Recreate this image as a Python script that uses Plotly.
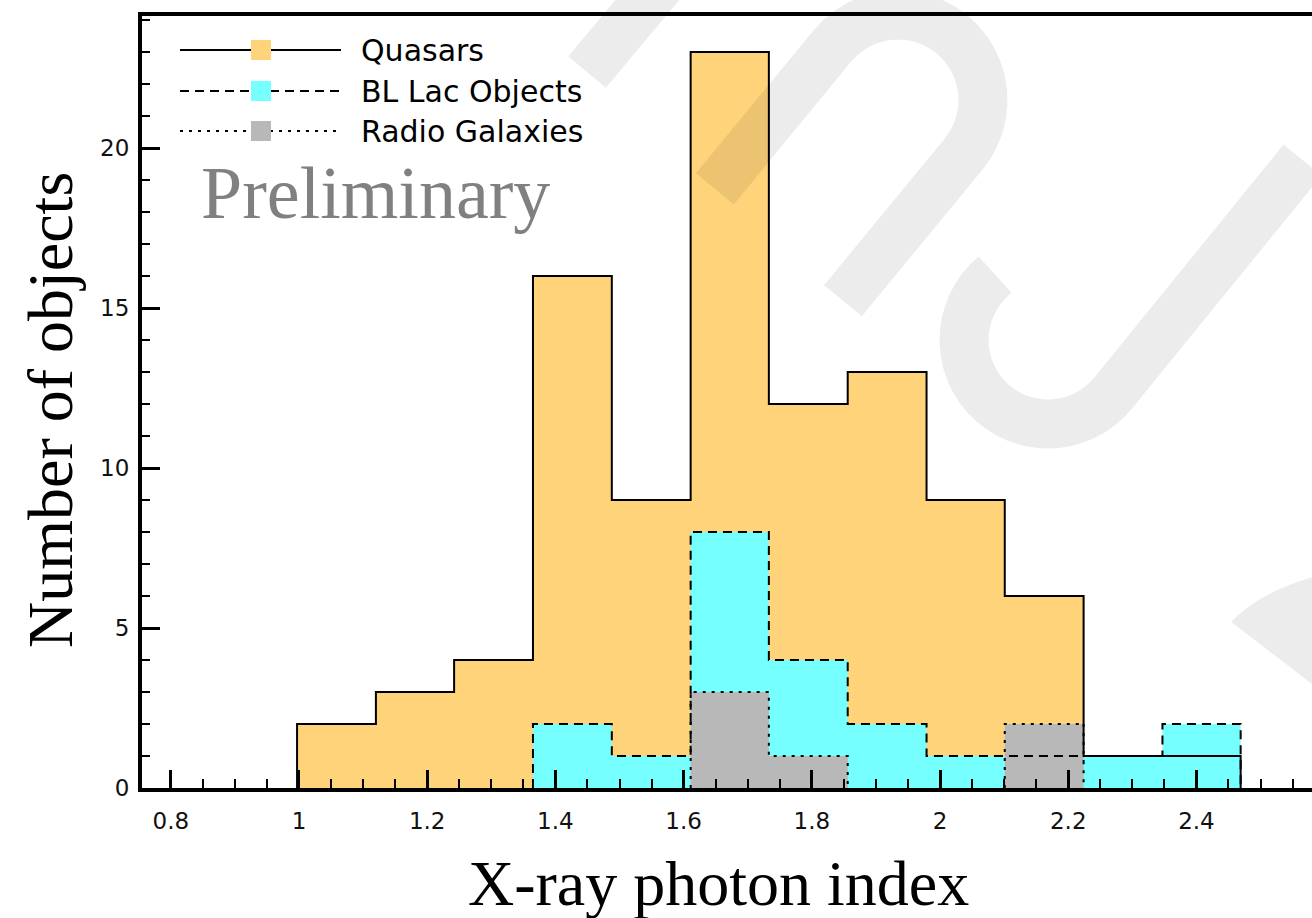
import numpy as np
import plotly.graph_objects as go

# ---------------- data ----------------
bin_edges = [0.997, 1.12, 1.242, 1.365, 1.488, 1.611, 1.733, 1.856, 1.979, 2.101, 2.224, 2.347, 2.469]
quasars = [2, 3, 4, 16, 9, 23, 12, 13, 9, 6, 1, 1]
bl_lacs = [0, 0, 0, 2, 1, 8, 4, 2, 1, 1, 1, 2]
radio_galaxies = [0, 0, 0, 0, 0, 3, 1, 0, 0, 2, 0, 0]
series_names = ["Quasars", "BL Lac Objects", "Radio Galaxies"]
x_title = "X-ray photon index"
y_title = "Number of objects"
watermark_text = "Preliminary"

# ---------------- style ----------------
W, H = 1312, 918
L, R, T, B = 142, 0, 16, 130
fills = ["#FFD37A", "#75FFFF", "#B8B8B8"]
dashes = ["solid", "9px,6px", "3px,6px"]
SANS = "DejaVu Sans"
SERIF = "Liberation Serif, Times New Roman, serif"


def px2x(X):
    return (X - L) / (W - L - R)


def px2y(Y):
    return (H - B - Y) / (H - T - B)


def runs(counts):
    out, i = [], 0
    while i < len(counts):
        if counts[i] > 0:
            j = i
            while j + 1 < len(counts) and counts[j + 1] > 0:
                j += 1
            out.append((i, j))
            i = j + 1
        else:
            i += 1
    return out


def step_xy(edges, counts, i, j):
    xs = [edges[i]] + [edges[k] for k in range(i, j + 1)] + [edges[j + 1], edges[j + 1]]
    ys = [0] + [counts[k] for k in range(i, j + 1)] + [counts[j], 0]
    return xs, ys


fig = go.Figure()
all_series = [quasars, bl_lacs, radio_galaxies]

# fills first
for s, counts in enumerate(all_series):
    for (i, j) in runs(counts):
        xs, ys = step_xy(bin_edges, counts, i, j)
        fig.add_trace(go.Scatter(x=xs, y=ys, mode="lines", line=dict(width=0, shape="hv"),
                                 fill="toself", fillcolor=fills[s], showlegend=False,
                                 hoverinfo="skip"))
# outlines on top
for s, counts in enumerate(all_series):
    for (i, j) in runs(counts):
        xs, ys = step_xy(bin_edges, counts, i, j)
        fig.add_trace(go.Scatter(x=xs, y=ys, mode="lines",
                                 line=dict(width=2, shape="hv", color="black", dash=dashes[s]),
                                 showlegend=False, name=series_names[s]))

shapes = []
wm = "rgba(0,0,0,0.075)"


def poly_path(pts):
    return "M " + " L ".join(f"{px2x(X):.5f},{px2y(Y):.5f}" for X, Y in pts)


# watermark: hairpin
d = np.array([0.635, -0.772]); d /= np.linalg.norm(d)
n = np.array([0.772, 0.635]); n /= np.linalg.norm(n)
c = np.array([898.0, 100.0]); r = 85.0
T1 = c - r * n; T2 = c + r * n
pts = [T1 - 185 * d]
for th in np.linspace(0, np.pi, 25):
    pts.append(c + r * (-n * np.cos(th) + d * np.sin(th)))
pts.append(T2 - 190 * d)
shapes.append(dict(type="path", xref="paper", yref="paper", path=poly_path(pts),
                   line=dict(color=wm, width=49), layer="above"))
# watermark: top-left band
shapes.append(dict(type="path", xref="paper", yref="paper",
                   path=poly_path([(587, 72), (587 + 0.643 * 140, 72 - 0.766 * 140)]),
                   line=dict(color=wm, width=49), layer="above"))
# watermark: J shape
c2 = np.array([1048.0, 340.0]); r2 = 84.0
d2 = np.array([0.63, -0.775]); d2 /= np.linalg.norm(d2)
jpts = []
for ang in np.linspace(np.radians(231), np.radians(39), 30):
    jpts.append(c2 + r2 * np.array([np.cos(ang), np.sin(ang)]))
jpts.append(jpts[-1] + 300 * d2)
shapes.append(dict(type="path", xref="paper", yref="paper", path=poly_path(jpts),
                   line=dict(color=wm, width=49), layer="above"))
# watermark: right wedge
wedge = (f"M {px2x(1231):.5f},{px2y(622):.5f} Q {px2x(1262):.5f},{px2y(590):.5f} "
         f"{px2x(1320):.5f},{px2y(575):.5f} L {px2x(1320):.5f},{px2y(690):.5f} Z")
shapes.append(dict(type="path", xref="paper", yref="paper", path=wedge,
                   fillcolor=wm, line=dict(width=0), layer="above"))

# manual legend
legend_rows = [50, 91, 131]
annotations = []
for s, yy in enumerate(legend_rows):
    shapes.append(dict(type="line", xref="paper", yref="paper",
                       x0=px2x(180), x1=px2x(341), y0=px2y(yy), y1=px2y(yy),
                       line=dict(color="black", width=2, dash=dashes[s])))
    shapes.append(dict(type="rect", xref="paper", yref="paper",
                       x0=px2x(251), x1=px2x(271), y0=px2y(yy - 10), y1=px2y(yy + 10),
                       fillcolor=fills[s], line=dict(width=0)))
    annotations.append(dict(text=series_names[s], xref="paper", yref="paper",
                            x=px2x(359), y=px2y(yy), xanchor="left", yanchor="middle",
                            showarrow=False, font=dict(family=SANS, size=30, color="black")))

annotations.append(dict(text=watermark_text, xref="paper", yref="paper",
                        x=px2x(375), y=px2y(193), xanchor="center", yanchor="middle",
                        showarrow=False, font=dict(family=SERIF, size=74, color="#808080")))
annotations.append(dict(text=x_title, xref="paper", yref="paper",
                        x=px2x(718), y=px2y(883), xanchor="center", yanchor="middle",
                        showarrow=False, font=dict(family=SERIF, size=64, color="black")))
annotations.append(dict(text=y_title, xref="paper", yref="paper", textangle=-90,
                        x=px2x(50), y=px2y(410), xanchor="center", yanchor="middle",
                        showarrow=False, font=dict(family=SERIF, size=64, color="black")))

fig.update_layout(
    width=W, height=H,
    margin=dict(l=L, r=R, t=T, b=B, pad=0),
    paper_bgcolor="white", plot_bgcolor="white",
    showlegend=False,
    shapes=shapes, annotations=annotations,
    xaxis=dict(range=[0.7551, 2.5803], showgrid=False, zeroline=False,
               showline=True, linewidth=4, linecolor="black", mirror=True,
               ticks="inside", ticklen=18, tickwidth=3, tickcolor="black",
               tick0=0, dtick=0.2, layer="above traces",
               ticklabelstandoff=9,
               tickfont=dict(family=SANS, size=23, color="#111111"),
               minor=dict(ticks="inside", ticklen=9, tickwidth=2, tickcolor="black", dtick=0.05)),
    yaxis=dict(range=[0, 24.125], showgrid=False, zeroline=False,
               showline=True, linewidth=4, linecolor="black", mirror=False,
               ticks="inside", ticklen=18, tickwidth=3, tickcolor="black",
               tick0=0, dtick=5, layer="above traces",
               ticklabelstandoff=4,
               tickfont=dict(family=SANS, size=23, color="#111111"),
               minor=dict(ticks="inside", ticklen=8, tickwidth=2, tickcolor="black", dtick=1)),
)

fig.write_html("out.html")
